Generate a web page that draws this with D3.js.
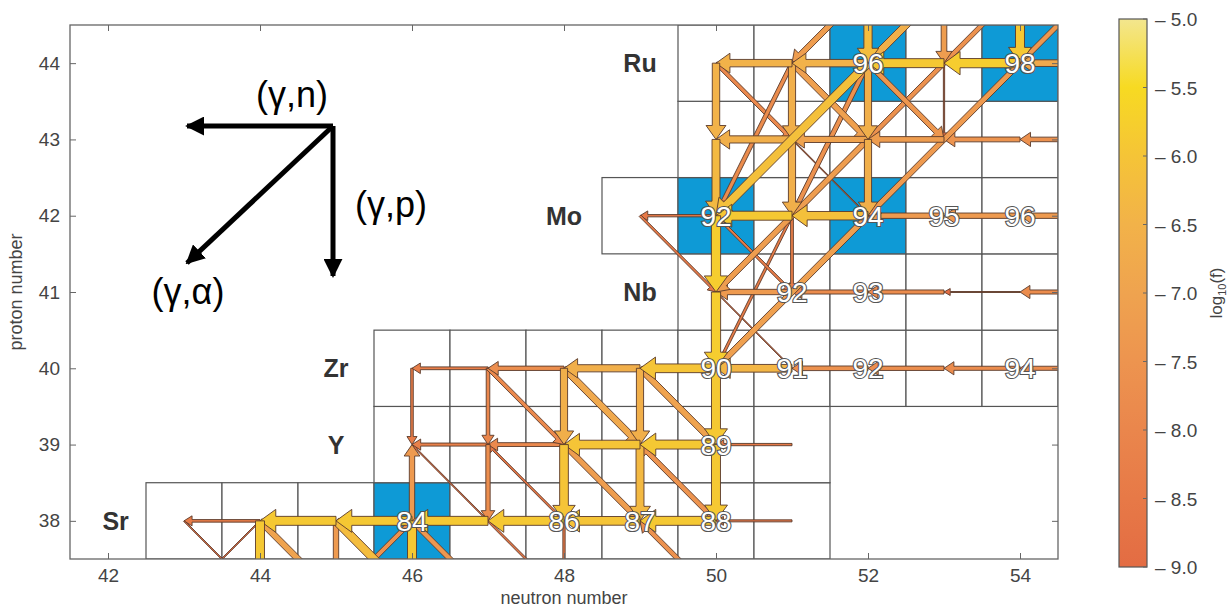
<!DOCTYPE html>
<html lang="en">
<head>
<meta charset="UTF-8">
<title>p-process flow</title>
<script src="https://d3js.org/d3.v7.min.js"></script>
<style>
  body { margin: 0; background: #fff; }
  text { font-family: "Liberation Sans", Arial, sans-serif; }
</style>
</head>
<body>
<script>
// tick labels
const xTicks = [42, 44, 46, 48, 50, 52, 54];
const yTicks = [38, 39, 40, 41, 42, 43, 44];
const cbarTicks = [-5, -5.5, -6, -6.5, -7, -7.5, -8, -8.5, -9];
const cbarColors = ["#f3e68e", "#f7da22", "#f5c437", "#f2b249", "#efa34f", "#ed944f", "#ea864c", "#e77947", "#e36c43"];

// chart cells: [Z, first N, last N]
const rows = [[38, 43, 51], [39, 46, 51], [40, 46, 54], [41, 50, 54], [42, 49, 54], [43, 50, 54], [44, 50, 54]];
// p-nuclei (blue cells): [N, Z]
const pNuclei = [[46, 38], [50, 42], [52, 42], [52, 44], [54, 44]];
// element labels: [symbol, Z, N position]
const elements = [["Sr", 38, 42.1], ["Y", 39, 45], ["Zr", 40, 45], ["Nb", 41, 49], ["Mo", 42, 48], ["Ru", 44, 49]];
// labelled nuclei: [N, Z]  (mass number = N + Z)
const labelled = [[46, 38], [48, 38], [49, 38], [50, 38], [50, 39], [50, 40], [51, 40], [52, 40], [54, 40],
  [51, 41], [52, 41], [50, 42], [52, 42], [53, 42], [54, 42], [52, 44], [54, 44]];

// flows, [N, Z, log10 f] of the parent nucleus
const gnFlows = [ // (γ,n): -> (N-1, Z)
  [44, 38, -8.4], [45, 38, -5.9], [46, 38, -5.9], [47, 38, -5.9], [48, 38, -5.9], [49, 38, -6.0], [50, 38, -5.9], [51, 38, -8.6],
  [47, 39, -8.2], [48, 39, -7.9], [49, 39, -6.0], [50, 39, -5.9], [51, 39, -8.5],
  [47, 40, -8.3], [48, 40, -7.7], [49, 40, -6.6], [50, 40, -6.0], [51, 40, -6.4], [52, 40, -7.6], [53, 40, -7.7], [54, 40, -7.8], [55, 40, -7.8],
  [51, 41, -7.3], [52, 41, -7.8], [53, 41, -7.8], [54, 41, -9.0], [55, 41, -7.8],
  [50, 42, -8.5], [51, 42, -5.9], [52, 42, -6.1], [53, 42, -7.3], [54, 42, -7.3], [55, 42, -7.3],
  [51, 43, -6.6], [52, 43, -7.0], [53, 43, -7.2], [54, 43, -7.5], [55, 43, -7.6],
  [51, 44, -6.5], [52, 44, -6.5], [53, 44, -5.9], [54, 44, -5.8], [55, 44, -6.8]
];
const gpFlows = [ // (γ,p): -> (N, Z-1)
  [44, 38, -5.9], [45, 38, -7.3], [46, 38, -5.9], [48, 38, -8.5],
  [47, 39, -7.7], [48, 39, -6.0], [49, 39, -6.3], [50, 39, -5.9],
  [46, 40, -8.4], [47, 40, -8.0], [48, 40, -6.6], [49, 40, -6.6], [50, 40, -5.9],
  [50, 41, -5.8],
  [50, 42, -5.8], [51, 42, -8.3],
  [50, 43, -6.3], [51, 43, -6.6], [52, 43, -6.6],
  [50, 44, -6.5], [51, 44, -6.6], [52, 44, -6.6], [53, 44, -8.9],
  [52, 45, -6.2], [53, 45, -7.2], [54, 45, -5.9]
];
const gaFlows = [ // (γ,α): -> (N-2, Z-2)
  [44, 38, -8.9], [46, 38, -7.6],
  [52, 42, -7.1], [52, 43, -7.2],
  [52, 44, -6.1], [53, 44, -7.6], [54, 44, -7.3],
  [53, 46, -7.2], [54, 46, -6.6], [55, 46, -7.6], [56, 46, -7.4]
];
const steepFlows = [ // -> (N-1, Z-2)
  [51, 44, -7.8], [52, 44, -7.6], [51, 42, -8.4]
];
const bpFlows = [ // -> (N+1, Z-1)
  [43, 38, -8.9], [44, 38, -7.0], [45, 38, -6.2], [46, 38, -7.4], [47, 38, -8.6],
  [48, 39, -7.2],
  [47, 40, -7.9], [48, 40, -6.8], [49, 40, -7.0],
  [50, 41, -9.0],
  [49, 42, -8.5], [50, 42, -8.4],
  [51, 43, -9.0],
  [50, 44, -7.9], [51, 44, -7.1], [52, 44, -7.4]
];
const bmFlows = [ // -> (N-1, Z+1)
  [47, 38, -8.9], [48, 38, -8.6], [50, 38, -7.5], [50, 37, -7.6]
];
const upFlows = [ // -> (N, Z+1)
  [46, 38, -7.3]
];

const W = 1231, H = 609;
const svg = d3.select("body").append("svg").attr("width", W).attr("height", H);

const x = d3.scaleLinear().domain([41.5, 54.5]).range([70, 1058]);
const y = d3.scaleLinear().domain([37.5, 44.5]).range([559, 25]);
const color = d3.scaleLinear().domain(cbarTicks).range(cbarColors).clamp(true);
const width = d3.scaleLinear().domain([-9, -5.5]).range([1, 10]).clamp(true);

svg.append("defs").append("clipPath").attr("id", "plot")
  .append("rect").attr("x", x(41.5)).attr("y", y(44.5))
  .attr("width", x(54.5) - x(41.5)).attr("height", y(37.5) - y(44.5));

const plot = svg.append("g").attr("clip-path", "url(#plot)");

// cells
const cells = [];
rows.forEach(([z, n0, n1]) => { for (let n = n0; n <= n1; n++) cells.push([n, z]); });
const isP = (n, z) => pNuclei.some(d => d[0] === n && d[1] === z);
plot.selectAll("rect.cell").data(cells).enter().append("rect")
  .attr("class", "cell")
  .attr("x", d => x(d[0] - 0.5)).attr("y", d => y(d[1] + 0.5))
  .attr("width", x(1) - x(0)).attr("height", y(0) - y(1))
  .attr("fill", d => isP(d[0], d[1]) ? "#0e9ad6" : "#fff")
  .attr("stroke", "#555").attr("stroke-width", 1.2);

// arrows
const flows = [];
const add = (list, dn, dz) => list.forEach(([n, z, v]) => flows.push({ n, z, n2: n + dn, z2: z + dz, v }));
add(gnFlows, -1, 0);
add(gpFlows, 0, -1);
add(gaFlows, -2, -2);
add(steepFlows, -1, -2);
add(bpFlows, 1, -1);
add(bmFlows, -1, 1);
add(upFlows, 0, 1);
flows.sort((a, b) => a.v - b.v);

function arrowPoints(x1, y1, x2, y2, w) {
  const dx = x2 - x1, dy = y2 - y1, L = Math.hypot(dx, dy);
  const ux = dx / L, uy = dy / L, px = -uy, py = ux;
  const hl = Math.min(1.2 * w + 5, L * 0.6), hw = w + 2.5, sw = w / 2;
  const nx = x2 - ux * hl, ny = y2 - uy * hl;
  return [[x1 + px * sw, y1 + py * sw], [nx + px * sw, ny + py * sw], [nx + px * hw, ny + py * hw], [x2, y2],
    [nx - px * hw, ny - py * hw], [nx - px * sw, ny - py * sw], [x1 - px * sw, y1 - py * sw]];
}

plot.selectAll("polygon.flow").data(flows).enter().append("polygon")
  .attr("class", "flow")
  .attr("points", d => arrowPoints(x(d.n), y(d.z), x(d.n2), y(d.z2), width(d.v)).map(p => p.join(",")).join(" "))
  .attr("fill", d => color(d.v))
  .attr("stroke", "#5a3a2a").attr("stroke-width", 0.9).attr("stroke-linejoin", "miter");

// mass numbers
plot.selectAll("text.mass").data(labelled).enter().append("text")
  .attr("class", "mass")
  .attr("x", d => x(d[0])).attr("y", d => y(d[1]) + 10)
  .attr("text-anchor", "middle")
  .attr("font-size", 28)
  .attr("fill", "#fff").attr("stroke", "#555").attr("stroke-width", 2.2)
  .attr("paint-order", "stroke")
  .text(d => d[0] + d[1]);

// element symbols
svg.selectAll("text.elem").data(elements).enter().append("text")
  .attr("class", "elem")
  .attr("x", d => x(d[2])).attr("y", d => y(d[1]) + 9)
  .attr("text-anchor", "middle")
  .attr("font-size", 25).attr("font-weight", "bold").attr("fill", "#333")
  .text(d => d[0]);

// frame and axes
svg.append("rect").attr("x", x(41.5)).attr("y", y(44.5))
  .attr("width", x(54.5) - x(41.5)).attr("height", y(37.5) - y(44.5))
  .attr("fill", "none").attr("stroke", "#666").attr("stroke-width", 1.3);

const axisStyle = g => {
  g.select(".domain").remove();
  g.selectAll("line").attr("stroke", "#666");
  g.selectAll("text").attr("font-family", "'Open Sans', sans-serif").attr("font-size", 19).attr("fill", "#444");
};
svg.append("g").attr("transform", `translate(0,${y(37.5)})`)
  .call(d3.axisBottom(x).tickValues(xTicks).tickFormat(d3.format("d")).tickSizeInner(-6).tickSizeOuter(0).tickPadding(10)).call(axisStyle);
svg.append("g").attr("transform", `translate(0,${y(44.5)})`)
  .call(d3.axisTop(x).tickValues(xTicks).tickSizeInner(-6).tickSizeOuter(0).tickFormat("")).call(axisStyle);
svg.append("g").attr("transform", `translate(${x(41.5)},0)`)
  .call(d3.axisLeft(y).tickValues(yTicks).tickFormat(d3.format("d")).tickSizeInner(-6).tickSizeOuter(0).tickPadding(10)).call(axisStyle);
svg.append("g").attr("transform", `translate(${x(54.5)},0)`)
  .call(d3.axisRight(y).tickValues(yTicks).tickSizeInner(-6).tickSizeOuter(0).tickFormat("")).call(axisStyle);

svg.append("text").attr("x", (x(41.5) + x(54.5)) / 2).attr("y", 604)
  .attr("text-anchor", "middle").attr("font-family", "'Open Sans', sans-serif")
  .attr("font-size", 18).attr("fill", "#444").text("neutron number");
svg.append("text").attr("transform", `translate(22,${(y(37.5) + y(44.5)) / 2}) rotate(-90)`)
  .attr("text-anchor", "middle").attr("font-family", "'Open Sans', sans-serif")
  .attr("font-size", 18).attr("fill", "#444").text("proton number");

// reaction legend
const lg = svg.append("g").attr("transform", "translate(333,126)");
svg.append("defs").append("marker").attr("id", "head")
  .attr("viewBox", "0 0 10 10").attr("refX", 9).attr("refY", 5)
  .attr("markerWidth", 3.8).attr("markerHeight", 3.8).attr("orient", "auto")
  .append("path").attr("d", "M0,0L10,5L0,10z").attr("fill", "#000");
const legendArrows = [[-146, 0], [0, 150], [-146, 137]];
lg.selectAll("line").data(legendArrows).enter().append("line")
  .attr("x1", 0).attr("y1", 0).attr("x2", d => d[0]).attr("y2", d => d[1])
  .attr("stroke", "#000").attr("stroke-width", 5).attr("marker-end", "url(#head)");
const legendText = [["(γ,n)", -41, -19, "middle"], ["(γ,p)", 22, 91, "start"], ["(γ,α)", -145, 178, "middle"]];
lg.selectAll("text").data(legendText).enter().append("text")
  .attr("x", d => d[1]).attr("y", d => d[2]).attr("text-anchor", d => d[3])
  .attr("font-family", "'Open Sans', sans-serif").attr("font-size", 36).attr("fill", "#000")
  .text(d => d[0]);

// colour bar
const cy = d3.scaleLinear().domain([-5, -9]).range([19, 567]);
const grad = svg.append("defs").append("linearGradient").attr("id", "cbar")
  .attr("x1", 0).attr("y1", 0).attr("x2", 0).attr("y2", 1);
grad.selectAll("stop").data(cbarTicks).enter().append("stop")
  .attr("offset", d => (cy(d) - cy(-5)) / (cy(-9) - cy(-5)))
  .attr("stop-color", d => color(d));
svg.append("rect").attr("x", 1119).attr("y", cy(-5)).attr("width", 28).attr("height", cy(-9) - cy(-5))
  .attr("fill", "url(#cbar)").attr("stroke", "#555").attr("stroke-width", 1.2);
const cb = svg.append("g");
cb.selectAll("line").data(cbarTicks).enter().append("line")
  .attr("x1", 1143).attr("x2", 1147).attr("y1", d => cy(d)).attr("y2", d => cy(d))
  .attr("stroke", "#666");
cb.selectAll("text").data(cbarTicks).enter().append("text")
  .attr("x", 1155).attr("y", d => cy(d) + 7)
  .attr("font-family", "'Open Sans', sans-serif").attr("font-size", 19).attr("fill", "#444")
  .text(d => "\u2013 " + d3.format(".1f")(-d));
const lab = svg.append("text").attr("transform", `translate(1222,${cy(-7)}) rotate(-90)`)
  .attr("text-anchor", "middle").attr("font-family", "'Open Sans', sans-serif")
  .attr("font-size", 17).attr("fill", "#444");
lab.append("tspan").text("log");
lab.append("tspan").attr("font-size", 11).attr("dy", 4).text("10");
lab.append("tspan").attr("dy", -4).text("(f)");
</script>
</body>
</html>
